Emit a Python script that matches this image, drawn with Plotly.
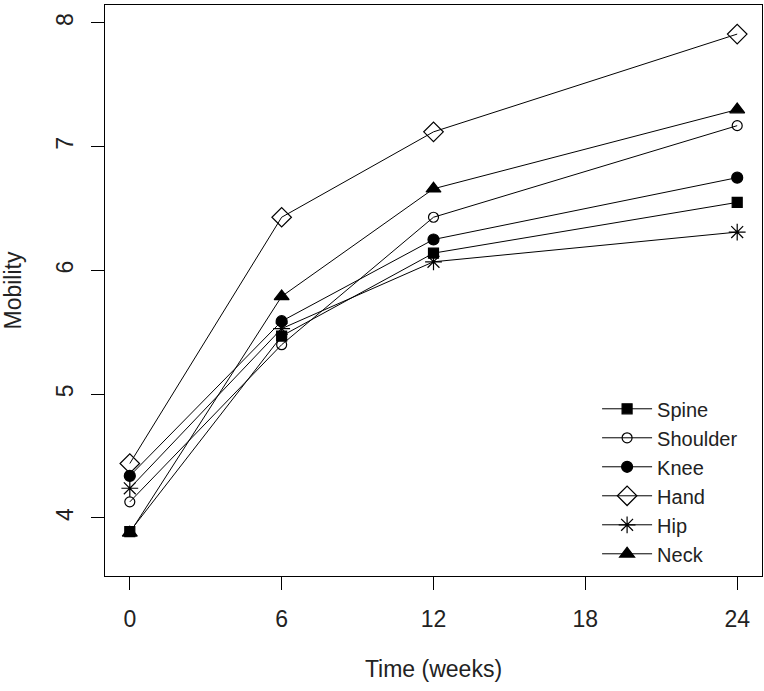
import plotly.graph_objects as go

weeks = [0, 6, 12, 24]
tick_vals = [0, 6, 12, 18, 24]
y_ticks = [4, 5, 6, 7, 8]

spine = [3.89, 5.47, 6.14, 6.55]
shoulder = [4.13, 5.40, 6.43, 7.17]
knee = [4.34, 5.59, 6.25, 6.75]
hand = [4.44, 6.43, 7.12, 7.91]
hip = [4.24, 5.53, 6.07, 6.31]
neck = [3.88, 5.79, 6.66, 7.30]

series = [
    ("Spine", spine, "square", "black", 10),
    ("Shoulder", shoulder, "circle-open", "black", 10),
    ("Knee", knee, "circle", "black", 11),
    ("Hand", hand, "diamond-open", "black", 15),
    ("Hip", hip, "asterisk-open", "black", 14),
    ("Neck", neck, "triangle-up", "black", 13),
]

FONT = "Liberation Sans, Arial, sans-serif"

fig = go.Figure()
for name, vals, sym, col, size in series:
    fig.add_trace(go.Scatter(
        x=weeks, y=vals, name=name, mode="lines+markers",
        line=dict(color="black", width=1),
        marker=dict(symbol=sym, size=size, color=col,
                    line=dict(color="black", width=1.2)),
    ))

fig.update_layout(
    width=764, height=691,
    margin=dict(l=105, r=2, t=5, b=115, autoexpand=False),
    paper_bgcolor="white", plot_bgcolor="white",
    font=dict(family=FONT, size=23, color="#222"),
    showlegend=True,
    legend=dict(x=0.749, xanchor="left", y=0.327, yanchor="top",
                bgcolor="rgba(0,0,0,0)", font=dict(size=20, color="#222"),
                tracegroupgap=0, itemwidth=50),
)
fig.update_xaxes(
    range=[-0.98, 24.98], tickvals=tick_vals, ticktext=[str(v) for v in tick_vals],
    showgrid=False, zeroline=False, showline=True, linecolor="black", linewidth=1,
    mirror=True, ticks="outside", ticklen=13, tickcolor="black", automargin=False,
    tickfont=dict(size=23), ticklabelstandoff=9,
    title=dict(text="Time (weeks)", font=dict(size=23), standoff=30),
)
fig.update_yaxes(
    range=[3.531, 8.145], tickvals=y_ticks, ticktext=[str(v) for v in y_ticks],
    showgrid=False, zeroline=False, showline=True, linecolor="black", linewidth=1,
    mirror=True, ticks="outside", ticklen=13, tickcolor="black", automargin=False,
    tickfont=dict(size=23), tickangle=-90, ticklabelstandoff=9,
    title=dict(text="Mobility", font=dict(size=23), standoff=41),
)

fig.write_html(
    "out.html",
    config={"responsive": False, "displayModeBar": False},
    post_script="document.body.style.margin='0px';document.body.style.overflow='hidden';",
)
